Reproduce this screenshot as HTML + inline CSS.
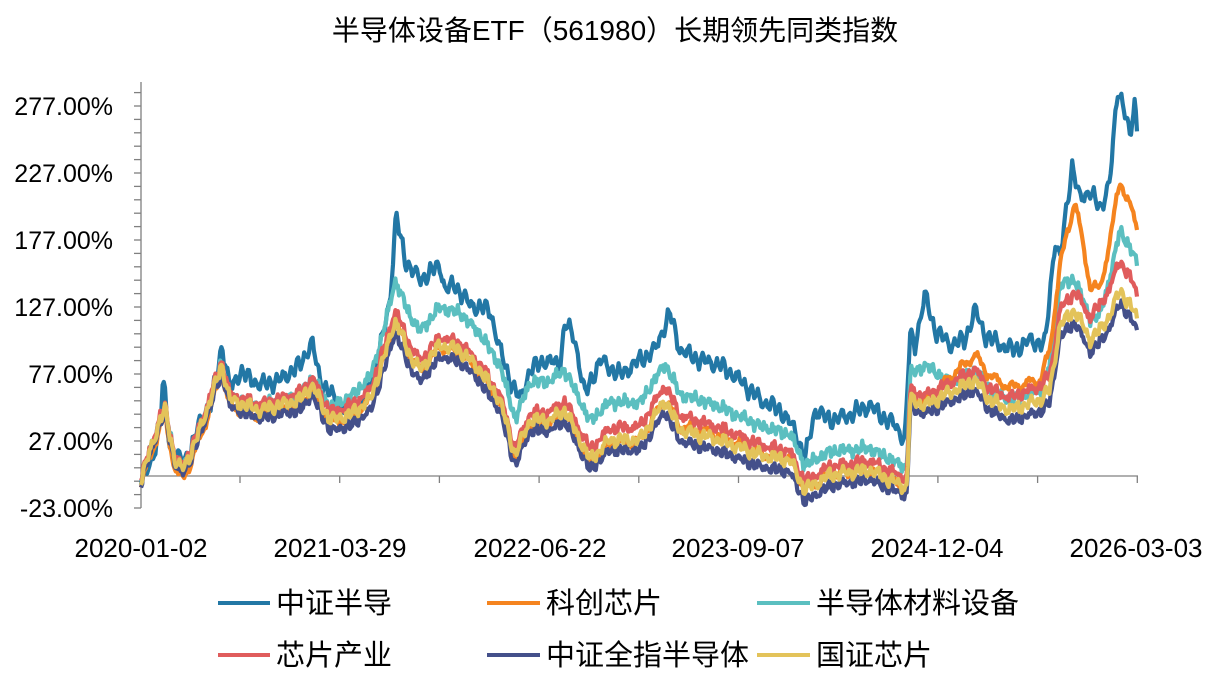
<!DOCTYPE html>
<html><head><meta charset="utf-8"><style>
body{margin:0;background:#fff;width:1214px;height:674px;overflow:hidden}
svg text{font-family:"Liberation Sans","Noto Sans CJK SC",sans-serif;fill:#000}
</style></head><body>
<svg id="s" width="1214" height="674" viewBox="0 0 1214 674" xmlns="http://www.w3.org/2000/svg">
<text x="615" y="40" font-size="28" text-anchor="middle">半导体设备ETF（561980）长期领先同类指数</text>
<g font-size="25" text-anchor="end">
<text x="113" y="115">277.00%</text><text x="113" y="182">227.00%</text><text x="113" y="249">177.00%</text>
<text x="113" y="316">127.00%</text><text x="113" y="383">77.00%</text><text x="113" y="450">27.00%</text><text x="113" y="517">-23.00%</text>
</g>
<g font-size="26" text-anchor="middle">
<text x="141" y="557">2020-01-02</text><text x="340" y="557">2021-03-29</text><text x="540" y="557">2022-06-22</text>
<text x="738" y="557">2023-09-07</text><text x="937" y="557">2024-12-04</text><text x="1136" y="557">2026-03-03</text>
</g>
<g id="ax" stroke="#808080" stroke-width="1.3" fill="none"></g>
<g id="lines" fill="none" stroke-width="4.2" stroke-linejoin="round"></g>
<g font-size="29">
<line x1="218" y1="603" x2="270" y2="603" stroke="#2277a5" stroke-width="4"/><text x="276" y="613">中证半导</text>
<line x1="487" y1="603" x2="540" y2="603" stroke="#f5841f" stroke-width="4"/><text x="546" y="613">科创芯片</text>
<line x1="757" y1="603" x2="810" y2="603" stroke="#5bbfc0" stroke-width="4"/><text x="816" y="613">半导体材料设备</text>
<line x1="218" y1="655" x2="270" y2="655" stroke="#e05c5c" stroke-width="4"/><text x="276" y="665">芯片产业</text>
<line x1="487" y1="655" x2="540" y2="655" stroke="#44508a" stroke-width="4"/><text x="546" y="665">中证全指半导体</text>
<line x1="757" y1="655" x2="810" y2="655" stroke="#e3c35a" stroke-width="4"/><text x="816" y="665">国证芯片</text>
</g>
</svg>
<script>
function interp(p,x){for(let i=0;i<p.length-1;i++){if(x>=p[i][0]&&x<=p[i+1][0]){let t=(x-p[i][0])/(p[i+1][0]-p[i][0]||1);return p[i][1]+t*(p[i+1][1]-p[i][1]);}}return x<p[0][0]?p[0][1]:p[p.length-1][1];}
function noise(x,s){return 2.2*Math.sin(x*0.9+s)+1.6*Math.sin(x*0.37+2*s)+1.5*Math.sin(x*2.3+3*s)+1.0*Math.sin(x*4.1+5*s);}
const ax=document.getElementById('ax');let a='';
a+='<line x1="141" y1="82" x2="141" y2="508"/>';
for(let y=508;y>=82;y-=13.4)a+=`<line x1="134" y1="${y.toFixed(1)}" x2="141" y2="${y.toFixed(1)}"/>`;
a+='<line x1="141" y1="476" x2="1138" y2="476"/>';
for(let x=240;x<=1140;x+=99.7)a+=`<line x1="${x.toFixed(1)}" y1="476" x2="${x.toFixed(1)}" y2="483"/>`;
ax.innerHTML=a;
const blue=[[141,480],[150,465],[160,430],[163,378],[170,445],[180,460],[190,455],[200,420],[210,410],[222,345],[230,390],[240,372],[260,385],[280,380],[300,365],[312,342],[320,380],[335,400],[350,410],[365,400],[380,350],[390,300],[396,215],[405,260],[420,280],[440,265],[445,290],[455,285],[470,305],[490,310],[500,350],[510,380],[520,400],[530,370],[545,360],[560,365],[565,322],[575,340],[585,395],[600,360],[620,375],[640,360],[655,350],[670,313],[680,350],[700,360],[720,365],[740,380],[760,400],[780,410],[795,430],[805,460],[815,410],[830,420],[850,415],[870,405],[880,415],[895,425],[905,440],[910,335],[915,345],[925,295],[935,330],[950,345],[965,340],[975,310],[985,335],[1000,345],[1015,350],[1030,340],[1045,345],[1055,240],[1060,260],[1072,165],[1080,200],[1090,190],[1100,210],[1110,180],[1118,88],[1125,110],[1130,140],[1135,100],[1138,145]];
const yel=[[141,480],[160,420],[165,410],[175,460],[182,470],[190,455],[200,430],[222,365],[230,400],[260,410],[300,400],[312,385],[330,420],[350,415],[370,400],[385,355],[395,320],[410,355],[420,370],[440,345],[460,350],[480,370],[500,400],[515,455],[530,420],[550,420],[565,410],[580,440],[590,460],[610,440],[640,440],[665,400],[680,430],[720,440],[760,455],[790,460],[805,490],[830,475],[870,470],[900,485],[907,488],[910,400],[925,405],[945,395],[975,380],[990,400],[1010,410],[1040,400],[1050,390],[1060,325],[1075,310],[1090,340],[1100,330],[1110,315],[1120,290],[1130,305],[1138,320]];
const offs={
cyan:[[141,0],[300,-5],[380,-25],[396,-40],[500,-35],[560,-40],[700,-35],[800,-25],[905,-20],[925,-40],[950,-10],[1040,-10],[1060,-40],[1100,-15],[1120,-60],[1138,-55]],
orange:[[141,5],[180,10],[300,5],[396,0],[500,5],[600,5],[700,-5],[800,0],[905,0],[925,-5],[975,-25],[1040,-20],[1060,-60],[1075,-110],[1090,-55],[1100,-40],[1120,-110],[1138,-90]],
red:[[141,-2],[396,-10],[500,-5],[670,-15],[800,-8],[975,-10],[1060,-15],[1120,-30],[1138,-25]],
navy:[[141,3],[300,10],[400,12],[600,10],[800,12],[905,8],[1050,12],[1138,12]],
yel:[[141,0],[1138,0]]};
function path(base,off,seed,amp){let d='';for(let x=141;x<=1138;x+=1.2){let y=interp(base,x)+interp(off,x)+noise(x,seed)*amp+noise(x,0.3)*1.4;d+=(d?'L':'M')+x.toFixed(1)+','+y.toFixed(1);}return d;}
const L=document.getElementById('lines');let h='';
h+=`<path d="${path(blue,[[0,0],[2000,0]],1.1,1.4)}" stroke="#2277a5"/>`;
h+=`<path d="${path(yel,offs.cyan,2.3,0.9)}" stroke="#5bbfc0"/>`;
h+=`<path d="${path(yel,offs.orange,3.7,1.1)}" stroke="#f5841f"/>`;
h+=`<path d="${path(yel,offs.red,4.1,0.5)}" stroke="#e05c5c"/>`;
h+=`<path d="${path(yel,offs.navy,5.2,0.5)}" stroke="#44508a"/>`;
h+=`<path d="${path(yel,offs.yel,6.0,0.5)}" stroke="#e3c35a"/>`;
L.innerHTML=h;
</script>
</body></html>
